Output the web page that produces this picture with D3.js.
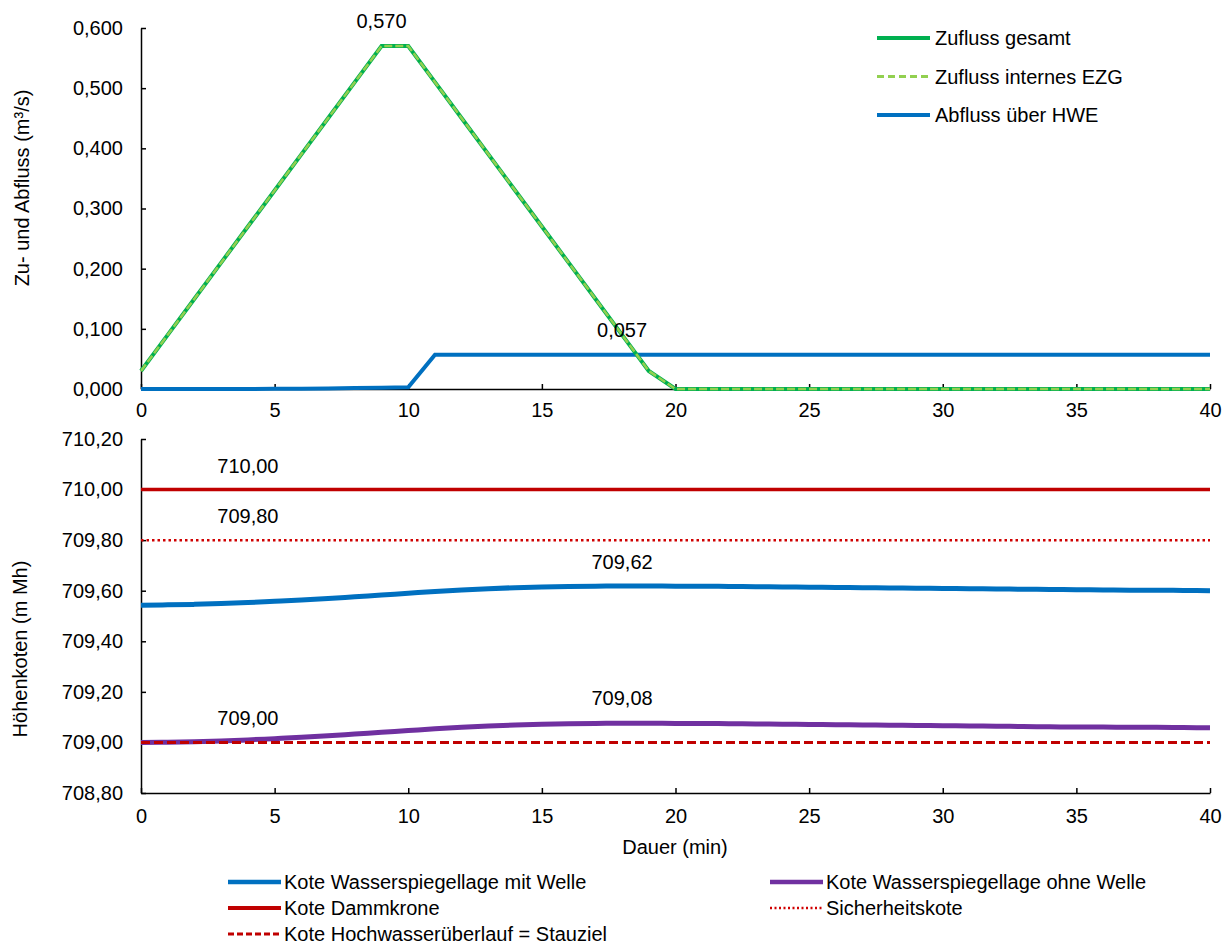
<!DOCTYPE html>
<html>
<head>
<meta charset="utf-8">
<script src="https://cdn.jsdelivr.net/npm/d3@7"></script>
<style>
  body { margin: 0; background: #fff; }
  svg text { font-family: "Liberation Sans", Arial, sans-serif; font-size: 20px; fill: #000; }
  .axis path, .axis line { stroke: #000; stroke-width: 1.5; }
</style>
</head>
<body>
<div id="vis"></div>
<script>
// Zeitachse (min)
var minutes = [0,1,2,3,4,5,6,7,8,9,10,11,12,13,14,15,16,17,18,19,20,
               21,22,23,24,25,26,27,28,29,30,31,32,33,34,35,36,37,38,39,40];

// oberes Diagramm (m³/s)
var zuflussGesamt = [0.030,0.090,0.150,0.210,0.270,0.330,0.390,0.450,0.510,0.570,0.570,
                     0.510,0.450,0.390,0.330,0.270,0.210,0.150,0.090,0.030,0,
                     0,0,0,0,0,0,0,0,0,0,0,0,0,0,0,0,0,0,0,0];
var zuflussIntern = [0.030,0.090,0.150,0.210,0.270,0.330,0.390,0.450,0.510,0.570,0.570,
                     0.510,0.450,0.390,0.330,0.270,0.210,0.150,0.090,0.030,0,
                     0,0,0,0,0,0,0,0,0,0,0,0,0,0,0,0,0,0,0,0];
var abflussHWE = [0,0,0,0,0,0.0003,0.0005,0.001,0.0015,0.002,0.003,
                  0.057,0.057,0.057,0.057,0.057,0.057,0.057,0.057,0.057,0.057,
                  0.057,0.057,0.057,0.057,0.057,0.057,0.057,0.057,0.057,0.057,
                  0.057,0.057,0.057,0.057,0.057,0.057,0.057,0.057,0.057,0.057];

// unteres Diagramm (m Mh)
var koteMitWelle = [709.543,709.544,709.546,709.549,709.553,709.558,709.563,709.569,709.576,709.583,709.590,
                    709.597,709.603,709.608,709.612,709.615,709.617,709.618,709.619,709.619,709.618,
                    709.618,709.617,709.616,709.615,709.614,709.613,709.612,709.611,709.610,709.609,
                    709.608,709.607,709.606,709.605,709.604,709.603,709.602,709.602,709.601,709.600];
var koteOhneWelle = [709.000,709.001,709.003,709.006,709.010,709.015,709.020,709.026,709.033,709.040,709.047,
                     709.054,709.060,709.065,709.069,709.072,709.074,709.075,709.076,709.076,709.075,
                     709.075,709.074,709.073,709.072,709.071,709.070,709.069,709.068,709.067,709.066,
                     709.065,709.064,709.063,709.062,709.061,709.061,709.060,709.060,709.059,709.058];
var koteDammkrone = 710.00;
var sicherheitsKote = 709.80;
var koteHWUeberlauf = 709.00;

var xTicks = [0,5,10,15,20,25,30,35,40];
var yTicksTop = [0,0.1,0.2,0.3,0.4,0.5,0.6];
var yTicksBottom = [708.8,709.0,709.2,709.4,709.6,709.8,710.0,710.2];

// Datenbeschriftungen
var labelsTop = [{t: 9, v: 0.570, text: '0,570'}, {t: 18, v: 0.057, text: '0,057'}];
var labelsBottom = [{t: 4, v: 710.00, text: '710,00'}, {t: 4, v: 709.80, text: '709,80'},
                    {t: 18, v: 709.62, text: '709,62'}, {t: 18, v: 709.08, text: '709,08'},
                    {t: 4, v: 709.00, text: '709,00'}];

var de = d3.formatLocale({decimal: ',', thousands: '.', grouping: [3], currency: ['', '€']});

var width = 1228, height = 945;
var svg = d3.select('#vis').append('svg')
            .attr('width', width)
            .attr('height', height);

var xScale = d3.scaleLinear().domain([0, 40]).range([141, 1210]);
var yTop = d3.scaleLinear().domain([0, 0.6]).range([389, 28]);
var yBot = d3.scaleLinear().domain([708.8, 710.2]).range([793, 439]);

// Achsen
svg.append('g').attr('class', 'axis')
   .attr('transform', 'translate(0,389)')
   .call(d3.axisBottom(xScale).tickValues(xTicks).tickSizeInner(-5).tickSizeOuter(0).tickPadding(14));
svg.append('g').attr('class', 'axis')
   .attr('transform', 'translate(141,0)')
   .call(d3.axisLeft(yTop).tickValues(yTicksTop).tickFormat(de.format('.3f'))
           .tickSizeInner(-5).tickSizeOuter(0).tickPadding(18));
svg.append('g').attr('class', 'axis')
   .attr('transform', 'translate(0,793)')
   .call(d3.axisBottom(xScale).tickValues(xTicks).tickSizeInner(-5).tickSizeOuter(0).tickPadding(16));
svg.append('g').attr('class', 'axis')
   .attr('transform', 'translate(141,0)')
   .call(d3.axisLeft(yBot).tickValues(yTicksBottom).tickFormat(de.format('.2f'))
           .tickSizeInner(-5).tickSizeOuter(0).tickPadding(18));
svg.selectAll('.axis text').style('font-size', '20px').attr('fill', '#000');

// Achsentitel
svg.append('text').attr('transform', 'translate(22,188) rotate(-90)')
   .attr('text-anchor', 'middle').attr('dy', '0.35em').text('Zu- und Abfluss (m³/s)');
svg.append('text').attr('transform', 'translate(20,649) rotate(-90)')
   .attr('text-anchor', 'middle').attr('dy', '0.35em').text('Höhenkoten (m Mh)');
svg.append('text').attr('x', 675).attr('y', 847)
   .attr('text-anchor', 'middle').attr('dy', '0.35em').text('Dauer (min)');

var lineOf = (yScale, values, curve) => d3.line()
    .x((d, i) => xScale(minutes[i]))
    .y((d) => yScale(d))
    .curve(curve || d3.curveLinear)(values);

var hLine = (yScale, v) => d3.line()
    .x((d) => xScale(d)).y(() => yScale(v))([0, 40]);

// oberes Diagramm
svg.append('path').attr('d', lineOf(yTop, abflussHWE))
   .attr('fill', 'none').attr('stroke', '#0070c0').attr('stroke-width', 4);
svg.append('path').attr('d', lineOf(yTop, zuflussGesamt))
   .attr('fill', 'none').attr('stroke', '#00b050').attr('stroke-width', 4);
svg.append('path').attr('d', lineOf(yTop, zuflussIntern))
   .attr('fill', 'none').attr('stroke', '#92d050').attr('stroke-width', 2.5)
   .attr('stroke-dasharray', '8,3');

// unteres Diagramm
svg.append('path').attr('d', hLine(yBot, koteDammkrone))
   .attr('fill', 'none').attr('stroke', '#c00000').attr('stroke-width', 3.5);
svg.append('path').attr('d', hLine(yBot, sicherheitsKote))
   .attr('fill', 'none').attr('stroke', '#d00000').attr('stroke-width', 2.5)
   .attr('stroke-dasharray', '2.5,3');
svg.append('path').attr('d', lineOf(yBot, koteMitWelle, d3.curveMonotoneX))
   .attr('fill', 'none').attr('stroke', '#0070c0').attr('stroke-width', 5);
svg.append('path').attr('d', lineOf(yBot, koteOhneWelle, d3.curveMonotoneX))
   .attr('fill', 'none').attr('stroke', '#7030a0').attr('stroke-width', 5);
svg.append('path').attr('d', hLine(yBot, koteHWUeberlauf))
   .attr('fill', 'none').attr('stroke', '#c00000').attr('stroke-width', 3)
   .attr('stroke-dasharray', '9,4');

// Datenbeschriftungen
svg.selectAll('.lblTop').data(labelsTop).enter().append('text')
   .attr('x', (d) => xScale(d.t)).attr('y', (d) => yTop(d.v) - 25)
   .attr('text-anchor', 'middle').attr('dy', '0.35em').text((d) => d.text);
svg.selectAll('.lblBot').data(labelsBottom).enter().append('text')
   .attr('x', (d) => xScale(d.t)).attr('y', (d) => yBot(d.v) - 24)
   .attr('text-anchor', 'middle').attr('dy', '0.35em').text((d) => d.text);

// Legende oben
var legendTop = [
    {name: 'Zufluss gesamt', color: '#00b050', dash: null, w: 4},
    {name: 'Zufluss internes EZG', color: '#92d050', dash: '7,4', w: 3},
    {name: 'Abfluss über HWE', color: '#0070c0', dash: null, w: 4}
];
var lt = svg.selectAll('.legTop').data(legendTop).enter().append('g')
            .attr('transform', (d, i) => `translate(877, ${38 + i * 38.5})`);
lt.append('line').attr('x1', 0).attr('x2', 53).attr('y1', 0).attr('y2', 0)
  .attr('stroke', (d) => d.color).attr('stroke-width', (d) => d.w)
  .attr('stroke-dasharray', (d) => d.dash);
lt.append('text').attr('x', 58).attr('dy', '0.35em').text((d) => d.name);

// Legende unten
var legendBottom = [
    {name: 'Kote Wasserspiegellage mit Welle', color: '#0070c0', dash: null, w: 4.5, x: 228, y: 882},
    {name: 'Kote Wasserspiegellage ohne Welle', color: '#7030a0', dash: null, w: 4.5, x: 770, y: 882},
    {name: 'Kote Dammkrone', color: '#c00000', dash: null, w: 4, x: 228, y: 908},
    {name: 'Sicherheitskote', color: '#d00000', dash: '2,2.5', w: 2.5, x: 770, y: 908},
    {name: 'Kote Hochwasserüberlauf = Stauziel', color: '#c00000', dash: '6,3', w: 3, x: 228, y: 934}
];
var lb = svg.selectAll('.legBot').data(legendBottom).enter().append('g')
            .attr('transform', (d) => `translate(${d.x}, ${d.y})`);
lb.append('line').attr('x1', 0).attr('x2', 53).attr('y1', 0).attr('y2', 0)
  .attr('stroke', (d) => d.color).attr('stroke-width', (d) => d.w)
  .attr('stroke-dasharray', (d) => d.dash);
lb.append('text').attr('x', 56).attr('dy', '0.35em').text((d) => d.name);
</script>
</body>
</html>
